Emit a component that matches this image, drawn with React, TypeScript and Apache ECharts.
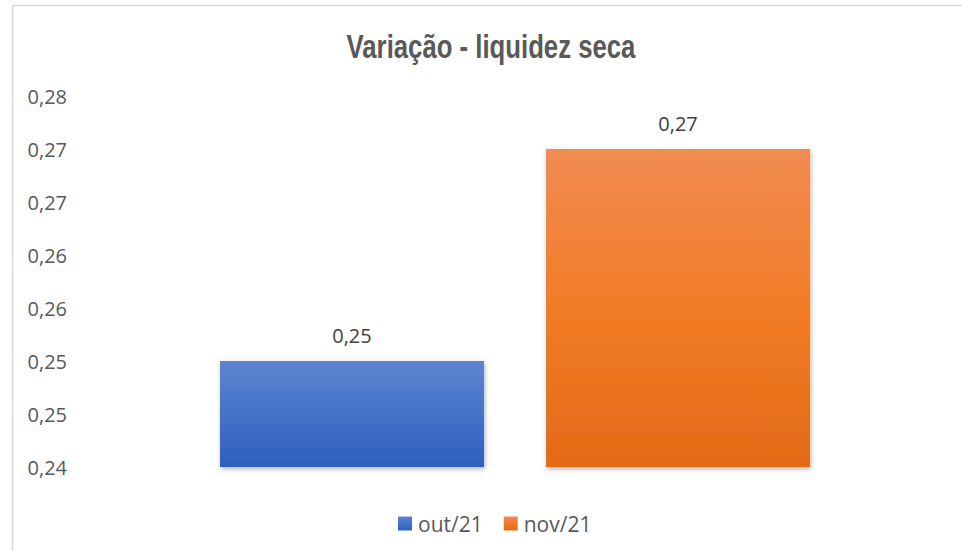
import React, { useEffect, useRef } from "react";
import * as echarts from "echarts";

const title = "Variação - liquidez seca";
const categories = [""];
const seriesNames = ["out/21", "nov/21"];
const outValues = [0.25];
const novValues = [0.27];
const tickLabels = ["0,24", "0,25", "0,25", "0,26", "0,26", "0,27", "0,27", "0,28"];

const fmt = (v: number) => v.toFixed(2).replace(".", ",");

export default function App() {
  const ref = useRef<HTMLDivElement>(null);
  useEffect(() => {
    const chart = echarts.init(ref.current!, null, { renderer: "svg" });
    const font = "'Open Sans', 'Noto Sans', sans-serif";
    const blue = new echarts.graphic.LinearGradient(0, 0, 0, 1, [
      { offset: 0, color: "#5d84d1" },
      { offset: 1, color: "#2d60be" },
    ]);
    const orange = new echarts.graphic.LinearGradient(0, 0, 0, 1, [
      { offset: 0, color: "#f08b52" },
      { offset: 0.5, color: "#f27c26" },
      { offset: 1, color: "#e26a17" },
    ]);
    const labelStyle = {
      show: true,
      position: "top",
      distance: 16,
      formatter: (p: any) => fmt(p.value),
      fontFamily: font,
      fontSize: 20,
      color: "#404040",
    };
    chart.setOption({
      animation: false,
      backgroundColor: "#ffffff",
      graphic: [
        {
          type: "rect",
          shape: { x: 12.5, y: 5.5, width: 1000, height: 600 },
          style: { fill: "none", stroke: "#d9d9d9", lineWidth: 1.5 },
          silent: true,
        },
        {
          type: "text",
          x: 491,
          y: 46,
          scaleX: 0.78,
          silent: true,
          style: {
            text: title,
            font: "bold 33px 'Liberation Sans', Arial, sans-serif",
            fill: "#595959",
            align: "center",
            verticalAlign: "middle",
          },
        },
      ],
      legend: {
        data: seriesNames,
        left: 393,
        top: 508,
        itemWidth: 14,
        itemHeight: 14,
        itemGap: 21,
        icon: "rect",
        textStyle: { fontFamily: font, fontSize: 21, color: "#595959", padding: [0, 0, 0, 1] },
      },
      grid: { left: 75, right: 7, top: 96, bottom: 84 },
      xAxis: {
        type: "category",
        data: categories,
        axisLine: { show: false },
        axisTick: { show: false },
        axisLabel: { show: false },
      },
      yAxis: {
        type: "value",
        min: 0.24,
        max: 0.275,
        interval: 0.005,
        splitLine: { show: false },
        axisLine: { show: false },
        axisTick: { show: false },
        axisLabel: {
          formatter: (_v: number, i: number) => tickLabels[i],
          fontFamily: font,
          fontSize: 20,
          color: "#595959",
          margin: 8,
        },
      },
      series: [
        {
          name: seriesNames[0],
          type: "bar",
          data: outValues,
          barWidth: 264,
          barGap: "23.5%",
          itemStyle: {
            color: blue,
            shadowBlur: 5,
            shadowOffsetX: 1,
            shadowOffsetY: 2,
            shadowColor: "rgba(0,0,0,0.3)",
          },
          label: labelStyle,
        },
        {
          name: seriesNames[1],
          type: "bar",
          data: novValues,
          barWidth: 264,
          itemStyle: {
            color: orange,
            shadowBlur: 5,
            shadowOffsetX: 1,
            shadowOffsetY: 2,
            shadowColor: "rgba(0,0,0,0.3)",
          },
          label: labelStyle,
        },
      ],
    });
    return () => chart.dispose();
  }, []);
  return (
    <div
      ref={ref}
      style={{ width: 962, height: 551, position: "absolute", left: 0, top: 0 }}
    />
  );
}
